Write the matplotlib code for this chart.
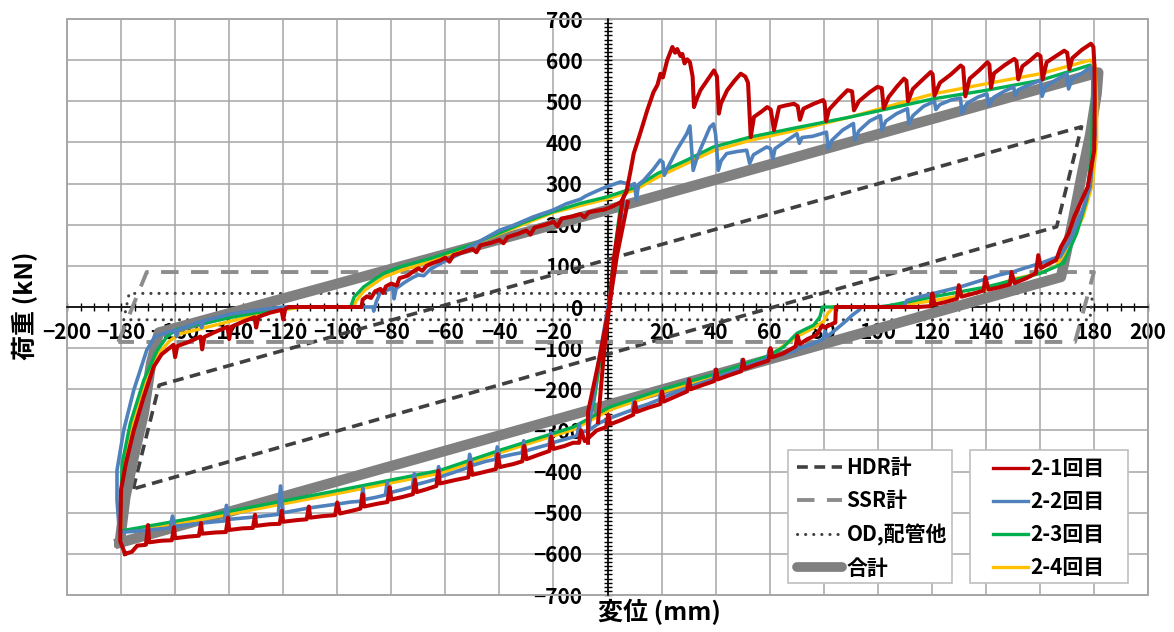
import numpy as np
import matplotlib.pyplot as plt
from matplotlib.lines import Line2D
from matplotlib.patches import Rectangle
from matplotlib.ticker import MultipleLocator, FuncFormatter

plt.rcParams['font.family'] = ['Noto Sans CJK JP', 'DejaVu Sans']
plt.rcParams['font.weight'] = 'bold'

nan = np.nan

# component model loops (displacement mm, load kN)
hdr_pts = [(-175.5, -442), (-165.9, -190), (175.4, 438), (166.2, 195), (-175.5, -442)]
ssr_pts = [(-181, -85), (-170.5, 85), (180, 85), (173, -85), (-181, -85)]
od_pts = [(-179, -31), (-177, 33), (179.5, 33), (178.5, -31), (-179, -31)]
total_pts = [(-180.5, -573), (-178.4, -462), (-175.3, -364), (-171.6, -259), (-168.9, -137),
             (-166, -62), (0, 236), (181.6, 570), (181, 519), (178.7, 422), (175.6, 325),
             (172.5, 220), (169.7, 130), (167.8, 73), (-180.5, -573)]

# test 2-1
red_pts = [
    (-178.5, -600), (-180.3, -570), (-180.2, -520), (-180.0, -445), (-178.2, -380), (-175.3, -300),
    (-171.6, -218), (-167.9, -145), (-165.0, -115), (-162.5, -102),
    (-160.6, -92), (-160.0, -122), (-159.2, -95), (-155, -85), (-150.6, -72), (-150.0, -103),
    (-149.2, -73), (-145, -60), (-140.6, -48), (-140.0, -78), (-139.2, -48), (-135, -36),
    (-130.6, -25), (-130.0, -50), (-129.2, -24), (-125, -14), (-120.6, -7), (-120.0, -30),
    (-119.2, -4), (-118, 0), (-91, 0), (-90.6, 18), (-89, 26), (-87.5, 22), (-86, 38), (-84, 44),
    (-83, 34), (-82, 50), (-80, 57), (-78, 52), (-77, 70), (-74, 76), (-72, 86), (-70, 94),
    (-68.5, 88), (-67, 100), (-65, 106), (-62, 113), (-60, 120), (-58.5, 110), (-57, 126),
    (-54, 132), (-50, 141), (-48.5, 133), (-47, 150), (-43, 156), (-40, 163), (-38.5, 155),
    (-37, 170), (-33, 178), (-30, 186), (-28.5, 176), (-27, 193), (-23, 200), (-20, 207),
    (-18.5, 196), (-17, 215), (-13, 220), (-10, 226), (-8.5, 218), (-7, 230), (-4, 234),
    (-1, 237), (2, 245), (5, 255),
    (7, 280), (8.5, 330), (9.7, 373), (12, 420), (14.7, 478), (17, 522), (18.5, 540), (19.6, 567),
    (20.5, 558), (22.1, 600), (24, 632), (25, 618), (25.8, 627), (27, 610), (27.7, 615),
    (28.5, 592), (29.5, 602), (30.5, 595), (31.5, 560), (32, 486), (33, 505), (34.4, 527),
    (37, 552), (39.4, 575), (40.5, 560), (41.2, 470), (42, 495), (44.3, 527), (47, 550),
    (49.3, 567), (51, 560), (52, 545), (53, 413), (54.2, 462), (57, 475), (59.1, 486),
    (60.4, 480), (61.6, 430), (63.5, 486), (66, 490), (69, 494), (70.4, 488), (71.2, 455),
    (72.5, 482), (76, 493), (79.8, 503), (80.3, 498), (80.9, 452), (82, 480), (85.5, 505),
    (88.8, 527), (90.5, 524), (91.2, 478), (93, 500), (97, 522), (99.9, 535), (101.5, 532),
    (102.2, 483), (104, 510), (107, 535), (109.7, 555), (110.6, 550), (111.2, 500), (113, 530),
    (116.5, 552), (119.6, 571), (120.3, 566), (121, 514), (123, 545), (127, 565), (130.7, 587),
    (131.6, 582), (132.4, 512), (134, 555), (137.5, 575), (140.6, 595), (141.3, 589),
    (141.9, 533), (143, 568), (147, 588), (150.5, 603), (151.3, 598), (152, 553), (153.5, 585),
    (156.5, 600), (159.1, 615), (160.2, 610), (161, 553), (162.5, 595), (166, 610), (169, 623),
    (170.1, 618), (170.9, 578), (172, 605), (175.5, 625), (178.9, 640), (179.8, 632),
    (180.2, 583), (180.3, 500), (180.1, 381), (177.7, 292), (172.7, 219), (170.6, 179),
    (167.8, 146), (166, 114), (163, 104), (160.4, 95), (159.4, 126), (158.5, 82), (155, 70),
    (150.6, 58), (149.5, 85), (148.9, 55), (145, 48), (141, 42), (139.8, 73), (139.2, 40),
    (135, 32), (131, 25), (130, 53), (129.3, 20), (125, 12), (121, 6), (120.2, 33), (119.6, 2),
    (115, 0), (84.5, 0), (84.3, -38), (83.5, -40), (80.4, -50), (79.5, -45), (77.3, -68),
    (74, -78), (71.2, -90), (70.3, -70), (69.6, -96), (65, -113), (61, -122), (60.3, -100),
    (59.6, -130), (55, -140), (50.8, -150), (50.2, -128), (49.5, -156), (45, -166), (40.8, -176),
    (40.2, -152), (39.5, -180), (35, -190), (30.8, -200), (30.2, -176), (29.5, -205), (25, -218),
    (20.8, -230), (20.2, -205), (19.5, -236), (15, -245), (10.8, -255), (10.2, -232),
    (9.5, -262), (5, -275), (1, -285), (0.3, -262), (-0.5, -292), (-4, -300), (-7, -318),
    (-8.4, -326), (-9.8, -300), (-10.5, -330), (-12.7, -330), (-16, -338), (-20, -345),
    (-20.8, -315), (-21.5, -350), (-25, -358), (-30, -370), (-30.8, -338), (-31.5, -375),
    (-35, -382), (-39.8, -389), (-40.6, -358), (-41.3, -394), (-45, -400), (-50, -408),
    (-50.8, -378), (-51.5, -414), (-56, -420), (-62, -429), (-62.6, -398), (-63.3, -435),
    (-67, -443), (-70.6, -450), (-71.2, -420), (-72, -455), (-76, -462), (-80, -468),
    (-80.6, -438), (-81.4, -474), (-85, -478), (-90, -485), (-90.6, -455), (-91.4, -490),
    (-95, -496), (-99, -502), (-100, -475), (-100.8, -506), (-105, -508), (-110, -512),
    (-110.5, -485), (-111.3, -516), (-115, -518), (-120, -522), (-120.5, -495), (-121.3, -527),
    (-125, -528), (-130, -532), (-130.4, -505), (-131.2, -537), (-135, -538), (-140, -542),
    (-140.4, -512), (-141.2, -547), (-145, -548), (-150, -551), (-150.4, -525), (-151.2, -556),
    (-155, -558), (-160, -562), (-160.4, -535), (-161.2, -567), (-165, -568), (-169.6, -572),
    (-170, -530), (-170.8, -578), (-174, -580), (-176, -595), (-178.5, -600),
    (nan, nan), (-7.2, -330), (-7.2, -255), (-3, -125), (0.6, 0), (3.5, 125), (7.5, 255),
    (nan, nan), (5.5, 255), (2.5, 125), (0.6, 0), (-1.5, -125), (-3.5, -280),
]

# test 2-2
blue_pts = [
    (-180.6, -548), (-181.5, -470), (-181.5, -397), (-179, -299), (-175.3, -202), (-170.5, -105),
    (-167.5, -72), (-163, -62), (-160, -56), (-159.5, -72), (-158.8, -55), (-150.7, -36),
    (-150.2, -50), (-149.5, -34), (-140, -18), (-138.3, -16), (-130, -8), (-120, 0), (-86.8, 0),
    (-86.5, -10), (-85.6, 12), (-85.2, 18), (-84, 37), (-81, 42), (-79.5, 49), (-79, 20),
    (-78.2, 45), (-75, 60), (-72, 72), (-70, 78), (-68, 76), (-65.5, 92), (-60, 112), (-55, 128),
    (-50, 150), (-45, 168), (-39.8, 187), (-35, 198), (-30, 212), (-27.5, 219), (-20, 236),
    (-15.2, 251), (-10, 262), (-8, 270), (-4, 282), (-0.4, 292), (4.8, 304), (7, 300), (8.5, 295),
    (10, 300), (10.7, 260), (11.5, 298), (13.4, 308), (17, 335), (19.5, 357), (20.5, 352),
    (21, 320), (22, 335), (25.6, 381), (29.3, 421), (30.5, 440), (31.7, 332), (33, 360),
    (34.2, 381), (37.9, 437), (39.2, 445), (40, 420), (41, 332), (42, 355), (44.1, 373),
    (48, 378), (51.5, 381), (52.6, 349), (54, 370), (58.9, 389), (60.3, 385), (61.2, 360),
    (62, 385), (66.4, 405), (70.1, 421), (71, 398), (72, 412), (76, 415), (81, 425), (81.7, 385),
    (83, 405), (87, 430), (91, 446), (91.5, 405), (93, 428), (97, 452), (101, 465), (101.5, 430),
    (103, 452), (107, 470), (111, 482), (111.5, 445), (113, 465), (117, 488), (121, 500),
    (121.5, 480), (123, 492), (127, 503), (130.6, 508), (131.2, 470), (133, 495), (137, 510),
    (140.4, 518), (141, 490), (143, 510), (147, 525), (150.3, 535), (150.8, 515), (152, 528),
    (156, 540), (160.2, 551), (160.8, 512), (162, 535), (166, 552), (170, 567), (170.6, 530),
    (172, 555), (176, 570), (178.6, 583), (179.5, 560), (180.4, 421), (178.6, 292), (174.9, 219),
    (171.2, 162), (167.5, 122), (165, 118), (160.2, 106), (155, 96), (150.3, 86), (145, 78),
    (140.4, 69), (135, 58), (130.6, 49), (125, 40), (120.6, 33), (115, 24), (110.8, 16),
    (109.5, 0), (94, 0), (93, -8), (90.5, -20), (88.6, -32), (85, -52), (81.2, -72), (80.5, -58),
    (79.8, -78), (75, -92), (71, -100), (70.4, -85), (69.8, -106), (65, -115), (60.3, -122),
    (59.8, -105), (59.2, -127), (55, -135), (50.4, -146), (49.8, -128), (49.2, -150), (45, -160),
    (40.4, -170), (39.8, -152), (39.2, -175), (35, -184), (30.4, -194), (29.8, -176),
    (29.2, -198), (25, -208), (20.4, -220), (19.8, -202), (19.2, -225), (15, -236), (10.4, -246),
    (9.8, -228), (9.2, -250), (5, -260), (0.9, -270), (-3, -282), (-7, -300), (-10, -305),
    (-10.5, -285), (-11.2, -312), (-12.7, -316), (-16, -322), (-20.4, -330), (-21, -305),
    (-21.6, -334), (-25, -340), (-30.4, -350), (-31, -325), (-31.6, -354), (-35, -358),
    (-39.8, -365), (-40.8, -340), (-41.4, -370), (-45, -375), (-50, -385), (-51, -358),
    (-51.6, -390), (-56, -400), (-62, -413), (-62.5, -388), (-63.2, -418), (-67, -425),
    (-71, -432), (-71.5, -405), (-72.2, -437), (-76, -444), (-81, -452), (-81.5, -425),
    (-82.2, -457), (-86, -463), (-90, -468), (-90.5, -440), (-91.2, -472), (-95, -474),
    (-99, -478), (-110, -488), (-120, -500), (-121, -435), (-121.8, -504), (-130, -510),
    (-140, -516), (-141, -482), (-141.8, -520), (-150, -525), (-160, -533), (-161, -508),
    (-161.8, -537), (-170, -542), (-175, -545), (-180.6, -548),
    (nan, nan), (-7, -300), (-3.5, -140), (0.2, 0), (3.5, 140), (6, 270),
]

# test 2-3
green_pts = [
    (-180.2, -545), (-180.2, -502), (-179.6, -380), (-176.6, -283), (-171.6, -178),
    (-166.6, -105), (-163, -72), (-159.7, -55), (-150, -40), (-138.3, -24), (-130, -14),
    (-120, -4), (-115, 0), (-95, 0), (-93.8, 24), (-90.2, 49), (-86, 68), (-82.8, 82),
    (-76.6, 98), (-65.5, 118), (-50, 152), (-40, 180), (-30, 208), (-20, 232), (-10, 252),
    (0, 268), (10, 290), (18.4, 324), (29.3, 357), (39.2, 389), (52.8, 413), (70, 436), (90, 462),
    (120.6, 506), (140.4, 527), (160.2, 551), (178.6, 588), (179.6, 575), (179.2, 381),
    (177.3, 260), (173.6, 179), (168.7, 106), (160.2, 82), (140.4, 49), (120.6, 25), (104.7, 4),
    (100, 0), (79.5, 0), (78.6, -24), (76.3, -44), (70.1, -64), (65, -98), (58.8, -121),
    (40.3, -162), (19.4, -202), (0.9, -243), (-12.7, -292), (-39.8, -348), (-62, -397),
    (-99, -445), (-150.7, -510), (-179, -543), (-180.2, -545),
    (nan, nan), (-5.5, -250), (-2.5, -120), (0.4, 0), (2.7, 138), (5, 255),
]

# test 2-4
yellow_pts = [
    (-180, -548), (-180.3, -470), (-178.5, -360), (-175, -270), (-170.5, -170), (-166, -112),
    (-162, -82), (-158, -65), (-150, -52), (-138, -32), (-130, -20), (-120, -7), (-113, 0),
    (-94, 0), (-93, 15), (-90, 40), (-83, 72), (-76, 90), (-65, 112), (-40, 178), (-20, 230),
    (0, 263), (10, 284), (18.4, 315), (29.3, 349), (39.2, 380), (52.8, 405), (70, 430), (90, 462),
    (120.6, 518), (140.4, 543), (160.2, 567), (178.6, 600), (180.3, 590), (181, 500), (181, 406),
    (179.5, 300), (176, 220), (171, 150), (166, 100), (160, 82), (150.3, 68), (137, 35),
    (120, 15), (106, 2), (104, 0), (83.5, 0), (82.3, -10), (81.6, -14), (80, -35), (76, -52),
    (70, -72), (58.8, -124), (40.3, -166), (19.4, -208), (0.9, -250), (-12.7, -298),
    (-39.8, -354), (-62, -404), (-99, -452), (-150.7, -517), (-179, -546), (-180, -548),
    (nan, nan), (-6, -270), (-2.8, -130), (0.4, 0), (3, 130), (5.5, 255),
]

x_ticks = list(range(-200, 201, 20))
y_ticks = list(range(-700, 701, 100))

W, H = 1174, 632
fig = plt.figure(figsize=(W / 100, H / 100), dpi=100)
ax = fig.add_axes([67 / W, 1 - 595 / H, 1081 / W, 576 / H])
ax.set_xlim(-200, 200)
ax.set_ylim(-700, 700)


def xy(pts):
    a = np.array(pts, dtype=float)
    return a[:, 0], a[:, 1]


hdr_style = dict(color='#404040', lw=2.6, ls=(0, (3, 1.8)))
ssr_style = dict(color='#8c8c8c', lw=2.8, ls=(0, (4.5, 3.2)))
od_style = dict(color='#404040', lw=2.2, ls=(0, (0.05, 2.6)), dash_capstyle='round')

x, y = xy(hdr_pts)
ax.plot(x, y, zorder=3, **hdr_style)
x, y = xy(ssr_pts)
ax.plot(x, y, zorder=3, **ssr_style)
x, y = xy(od_pts)
ax.plot(x, y, zorder=3, **od_style)
x, y = xy(total_pts)
ax.plot(x, y, color='#808080', lw=7.5, solid_joinstyle='round', zorder=3)

for pts, c, lw in [(yellow_pts, '#FFC000', 2.4), (green_pts, '#00B050', 2.4),
                   (blue_pts, '#4F81BD', 2.6), (red_pts, '#C00000', 2.9)]:
    x, y = xy(pts)
    ax.plot(x, y, color=c, lw=lw, solid_joinstyle='round', zorder=4)

# axes through the origin
for s in ['top', 'right']:
    ax.spines[s].set_visible(False)
ax.spines['left'].set_position(('data', 0))
ax.spines['bottom'].set_position(('data', 0))
for s in ['left', 'bottom']:
    ax.spines[s].set_color('black')
    ax.spines[s].set_linewidth(1.2)
    ax.spines[s].set_zorder(2.6)
ax.add_patch(Rectangle((0, 0), 1, 1, transform=ax.transAxes, fill=False,
                       edgecolor='#a6a6a6', lw=1.4, zorder=2, clip_on=False))

ax.set_xticks(x_ticks)
ax.set_yticks(y_ticks)
ax.xaxis.set_minor_locator(MultipleLocator(5))
ax.yaxis.set_minor_locator(MultipleLocator(10))
ax.xaxis.set_major_formatter(FuncFormatter(lambda v, p: '' if v == 0 else f'{v:.0f}'.replace('-', '\u2212')))
ax.yaxis.set_major_formatter(FuncFormatter(lambda v, p: f'{v:.0f}'.replace('-', '\u2212')))
ax.tick_params(which='both', direction='inout', length=6, width=1, color='black')
ax.tick_params(axis='y', which='major', pad=15, labelsize=15)
ax.tick_params(axis='x', which='major', pad=8, labelsize=15)
ax.grid(True, which='major', color='#a6a6a6', lw=1.1)
ax.set_axisbelow(True)

fig.text(25 / W, 1 - 306 / H, '荷重 (kN)', rotation=90, ha='center', va='center', fontsize=18)
fig.text(659 / W, 1 - 612 / H, '変位 (mm)', ha='center', va='center', fontsize=18)

# legend boxes
for x0, x1 in [(788, 952), (970, 1128)]:
    fig.add_artist(Rectangle((x0 / W, 1 - 583 / H), (x1 - x0) / W, 133 / H,
                             transform=fig.transFigure, facecolor='white',
                             edgecolor='#bfbfbf', lw=1.2, zorder=1))

h1 = [Line2D([], [], **hdr_style), Line2D([], [], **ssr_style), Line2D([], [], **od_style),
      Line2D([], [], color='#808080', lw=7, solid_capstyle='round')]
l1 = ['HDR計', 'SSR計', 'OD,配管他', '合計']
h2 = [Line2D([], [], color=c, lw=2.4) for c in ['#C00000', '#4F81BD', '#00B050', '#FFC000']]
l2 = ['2-1回目', '2-2回目', '2-3回目', '2-4回目']

fig.legend(h1, l1, loc='center left', bbox_to_anchor=(797 / W, 1 - 518 / H),
           fontsize=15, frameon=False, handlelength=2.15, handletextpad=0.22,
           labelspacing=0.58, borderpad=0, borderaxespad=0)
fig.legend(h2, l2, loc='center left', bbox_to_anchor=(993 / W, 1 - 518 / H),
           fontsize=15, frameon=False, handlelength=1.7, handletextpad=0.1,
           labelspacing=0.58, borderpad=0, borderaxespad=0)

fig.savefig('out.png', dpi=100)
